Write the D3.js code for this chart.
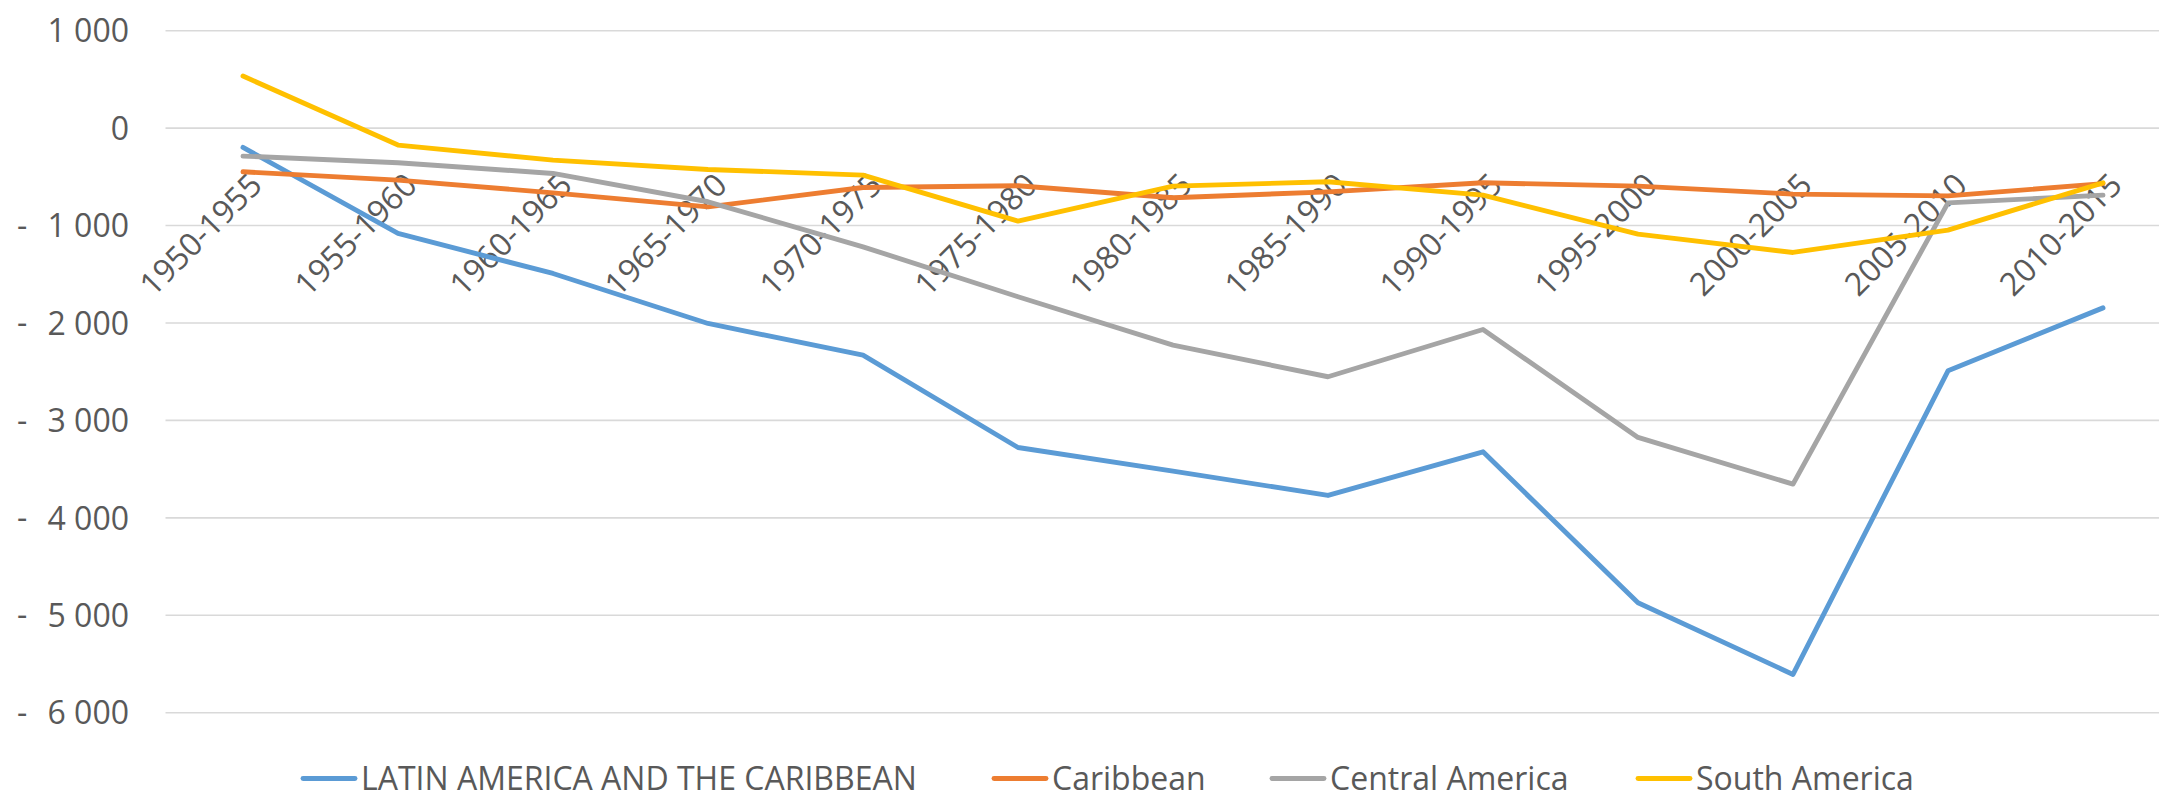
<!DOCTYPE html>
<html>
<head>
<meta charset="utf-8">
<script src="https://cdn.jsdelivr.net/npm/d3@7/dist/d3.min.js"></script>
<style>
  html, body { margin: 0; padding: 0; background: #fff; }
  svg { display: block; }
  text { font-family: "Open Sans", "Noto Sans", sans-serif; fill: #595959; }
</style>
</head>
<body>
<svg id="chart" width="2159" height="793"></svg>
<script>
const categories = ["1950-1955","1955-1960","1960-1965","1965-1970","1970-1975","1975-1980","1980-1985","1985-1990","1990-1995","1995-2000","2000-2005","2005-2010","2010-2015"];
const latinAmerica = [-198, -1081, -1492, -2005, -2330, -3278, -3520, -3770, -3322, -4872, -5607, -2491, -1845];
const caribbean    = [-448, -534, -664, -808, -609, -592, -715, -654, -561, -595, -677, -695, -570];
const centralAm    = [-287, -355, -465, -756, -1218, -1731, -2227, -2552, -2067, -3175, -3654, -767, -688];
const southAm      = [534, -174, -328, -424, -482, -955, -595, -551, -688, -1088, -1276, -1047, -561];
const seriesNames  = ["LATIN AMERICA AND THE CARIBBEAN", "Caribbean", "Central America", "South America"];
const seriesColors = ["#5B9BD5", "#ED7D31", "#A5A5A5", "#FFC000"];
const yTicks = [1000, 0, -1000, -2000, -3000, -4000, -5000, -6000];

const series = [latinAmerica, caribbean, centralAm, southAm];
const svg = d3.select("#chart");
const FS = 32;

const x = d3.scalePoint().domain(categories).range([243, 2103]);
const y = d3.scaleLinear().domain([-6000, 1000]).range([712.7, 30.7]);
const fmt = v => d3.format(",")(Math.abs(v)).replace(/,/g, " ");

// gridlines
svg.append("g").selectAll("line").data(yTicks).join("line")
  .attr("x1", 165.5).attr("x2", 2159)
  .attr("y1", d => y(d)).attr("y2", d => y(d))
  .attr("stroke", "#d9d9d9").attr("stroke-width", 1.6);

// y axis labels
const yAxis = d3.axisLeft(y).tickValues(yTicks).tickSize(0).tickPadding(0).tickFormat(fmt);
const gy = svg.append("g").attr("transform", "translate(129,0)").call(yAxis);
gy.select(".domain").remove();
gy.selectAll("text").attr("font-size", FS).attr("fill", "#595959")
  .attr("font-family", '"Open Sans", sans-serif').attr("dy", "0.35em");
svg.append("g").selectAll("text").data(yTicks.filter(d => d < 0)).join("text")
  .attr("x", 17).attr("y", d => y(d)).attr("dy", "0.35em")
  .attr("font-size", FS).text("-");

// x axis labels
const xAxis = d3.axisBottom(x).tickSize(0).tickPadding(0);
const gx = svg.append("g").call(xAxis);
gx.select(".domain").remove();
gx.selectAll(".tick").attr("transform", d => `translate(${x(d)},0)`);
gx.selectAll("text")
  .attr("font-size", FS).attr("fill", "#595959")
  .attr("font-family", '"Open Sans", sans-serif')
  .attr("text-anchor", "end").attr("y", null).attr("dy", null)
  .attr("transform", "translate(21,187) rotate(-45)");

// lines
const line = d3.line().x((d, i) => x(categories[i])).y(d => y(d));
svg.append("g").selectAll("path").data(series).join("path")
  .attr("d", d => line(d))
  .attr("fill", "none")
  .attr("stroke", (d, i) => seriesColors[i])
  .attr("stroke-width", 4.9)
  .attr("stroke-linecap", "round")
  .attr("stroke-linejoin", "round");

// legend
const legendX = [303, 994, 1272, 1638];
const lg = svg.append("g").selectAll("g").data(seriesNames).join("g")
  .attr("transform", (d, i) => `translate(${legendX[i]},778.5)`);
lg.append("line").attr("x1", 0).attr("x2", 52).attr("y1", 0).attr("y2", 0)
  .attr("stroke", (d, i) => seriesColors[i]).attr("stroke-width", 4.9)
  .attr("stroke-linecap", "round");
lg.append("text").attr("x", 58).attr("y", 0).attr("dy", "0.35em")
  .attr("font-size", FS).text(d => d);
</script>
</body>
</html>
